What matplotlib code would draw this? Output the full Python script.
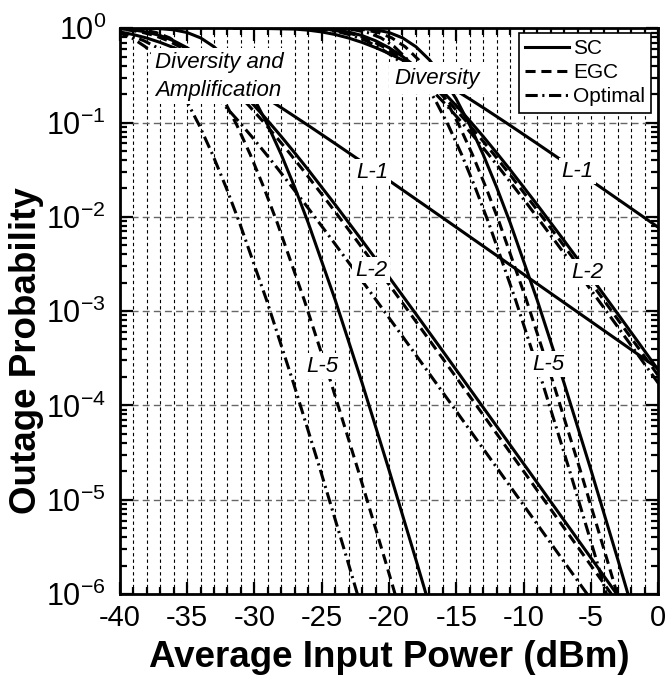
import matplotlib.pyplot as plt
from matplotlib.ticker import MultipleLocator, LogLocator, NullFormatter

plt.rcParams['font.family'] = ['Liberation Sans', 'DejaVu Sans']
plt.rcParams['axes.unicode_minus'] = False

# outage probability per diversity order (same shape for both groups)
p_l1 = [0.99957, 0.9796, 0.9545, 0.914, 0.8577, 0.7875, 0.7078, 0.6236, 0.5398, 0.4602,
        0.3872, 0.3222, 0.2658, 0.2177, 0.1772, 0.1435, 0.1157, 0.0931, 0.0598, 0.0382,
        0.02425, 0.01537, 0.009725, 0.002452, 7.759e-4, 2.455e-4]
p_l2 = [1.0, 0.9992, 0.9959, 0.9853, 0.9599, 0.9118, 0.8365, 0.7368, 0.6213, 0.5022,
        0.39, 0.2923, 0.2125, 0.1505, 0.1043, 0.07097, 0.04757, 0.03151, 0.01346, 0.005603,
        0.002295, 9.30e-4, 3.746e-4, 2.399e-5, 2.406e-6, 2.41e-7]
p_l5 = [1.0, 1.0, 1.0, 1.0, 0.9997, 0.9978, 0.9894, 0.9628, 0.901, 0.791,
        0.6365, 0.4623, 0.3013, 0.1767, 0.0937, 0.04555, 0.02047, 0.008625, 0.001314, 1.727e-4,
        2.06e-5, 2.30e-6, 2.47e-7, 2.7e-10, 8.7e-13, 2.8e-15]

# "Diversity and Amplification" group (dBm)
x_amp_sc = [-45, -42, -41, -40, -39, -38, -37, -36, -35, -34, -33, -32, -31, -30, -29, -28,
            -27, -26, -24, -22, -20, -18, -16, -10, -5, 0]
x_amp_egc2 = [-45.4, -42.4, -41.4, -40.4, -39.4, -38.4, -37.4, -36.4, -35.4, -34.4, -33.4, -32.4,
              -31.4, -30.4, -29.4, -28.4, -27.4, -26.4, -24.4, -22.4, -20.4, -18.4, -16.4, -10.4,
              -5.4, -0.4]
x_amp_opt2 = [-47.2, -44.2, -43.2, -42.2, -41.2, -40.2, -39.2, -38.2, -37.2, -36.2, -35.2, -34.2,
              -33.2, -32.2, -31.2, -30.2, -29.2, -28.2, -26.2, -24.2, -22.2, -20.2, -18.2, -12.2,
              -7.2, -2.2]
x_amp_egc5 = [-47.3, -44.3, -43.3, -42.3, -41.3, -40.3, -39.3, -38.3, -37.3, -36.3, -35.3, -34.3,
              -33.3, -32.3, -31.3, -30.3, -29.3, -28.3, -26.3, -24.3, -22.3, -20.3, -18.3, -12.3,
              -7.3, -2.3]
x_amp_opt5 = [-50.1, -47.1, -46.1, -45.1, -44.1, -43.1, -42.1, -41.1, -40.1, -39.1, -38.1, -37.1,
              -36.1, -35.1, -34.1, -33.1, -32.1, -31.1, -29.1, -27.1, -25.1, -23.1, -21.1, -15.1,
              -10.1, -5.1]

# "Diversity" group (dBm)
x_div_sc = [-30, -27, -26, -25, -24, -23, -22, -21, -20, -19, -18, -17, -16, -15, -14, -13,
            -12, -11, -9, -7, -5, -3, -1, 5, 10, 15]
x_div_egc2 = [-30.3, -27.3, -26.3, -25.3, -24.3, -23.3, -22.3, -21.3, -20.3, -19.3, -18.3, -17.3,
              -16.3, -15.3, -14.3, -13.3, -12.3, -11.3, -9.3, -7.3, -5.3, -3.3, -1.3, 4.7, 9.7, 14.7]
x_div_opt2 = [-30.7, -27.7, -26.7, -25.7, -24.7, -23.7, -22.7, -21.7, -20.7, -19.7, -18.7, -17.7,
              -16.7, -15.7, -14.7, -13.7, -12.7, -11.7, -9.7, -7.7, -5.7, -3.7, -1.7, 4.3, 9.3, 14.3]
x_div_egc5 = [-30.8, -27.8, -26.8, -25.8, -24.8, -23.8, -22.8, -21.8, -20.8, -19.8, -18.8, -17.8,
              -16.8, -15.8, -14.8, -13.8, -12.8, -11.8, -9.8, -7.8, -5.8, -3.8, -1.8, 4.2, 9.2, 14.2]
x_div_opt5 = [-31.6, -28.6, -27.6, -26.6, -25.6, -24.6, -23.6, -22.6, -21.6, -20.6, -19.6, -18.6,
              -17.6, -16.6, -15.6, -14.6, -13.6, -12.6, -10.6, -8.6, -6.6, -4.6, -2.6, 3.4, 8.4, 13.4]

styles = {'SC': '-', 'EGC': (0, (3.3, 1.9)), 'Optimal': (0, (4, 1.5, 0.7, 1.5))}

curves = [
    (x_amp_opt5, p_l5, 'Optimal'), (x_amp_egc5, p_l5, 'EGC'), (x_amp_sc, p_l5, 'SC'),
    (x_amp_opt2, p_l2, 'Optimal'), (x_amp_egc2, p_l2, 'EGC'), (x_amp_sc, p_l2, 'SC'),
    (x_amp_sc, p_l1, 'SC'),
    (x_div_opt5, p_l5, 'Optimal'), (x_div_egc5, p_l5, 'EGC'), (x_div_sc, p_l5, 'SC'),
    (x_div_opt2, p_l2, 'Optimal'), (x_div_egc2, p_l2, 'EGC'), (x_div_sc, p_l2, 'SC'),
    (x_div_sc, p_l1, 'SC'),
]

fig = plt.figure(figsize=(6.69, 6.89), dpi=100)
ax = fig.add_axes([0.179, 0.138, 0.805, 0.821])

for x, p, kind in curves:
    ax.plot(x, p, color='k', lw=2.2, linestyle=styles[kind], zorder=3)

ax.set_yscale('log')
ax.set_xlim(-40, 0)
ax.set_ylim(1e-6, 1)
ax.xaxis.set_major_locator(MultipleLocator(5))
ax.xaxis.set_minor_locator(MultipleLocator(1))
ax.yaxis.set_major_locator(LogLocator(base=10, numticks=10))
ax.yaxis.set_minor_locator(LogLocator(base=10, subs=range(2, 10), numticks=20))
ax.yaxis.set_minor_formatter(NullFormatter())

ax.grid(True, which='major', axis='y', color='#666666', lw=1.0, linestyle=(0, (5, 3)))
ax.grid(True, which='both', axis='x', color='k', lw=0.8, linestyle=(0, (3, 2.7)))
ax.set_axisbelow(True)

ax.tick_params(which='both', direction='in', top=True, right=True, width=1.6)
ax.tick_params(which='major', length=9)
ax.tick_params(axis='x', which='major', labelsize=21, pad=7)
ax.tick_params(axis='y', which='major', labelsize=22, pad=10)
ax.tick_params(which='minor', length=5)
for s in ax.spines.values():
    s.set_linewidth(2)

ax.set_xlabel('Average Input Power (dBm)', fontsize=26.5, fontweight='bold', labelpad=6)
ax.set_ylabel('Outage Probability', fontsize=26.5, fontweight='bold')
ax.yaxis.set_label_coords(-0.14, 0.43)

box = dict(facecolor='white', edgecolor='none', pad=2.5)
ax.text(-37.4, 0.436, 'Diversity and', style='italic', fontsize=16, ha='left', va='center',
        bbox=box, zorder=5)
ax.text(-37.4, 0.220, 'Amplification', style='italic', fontsize=16, ha='left', va='center',
        bbox=box, zorder=5)
ax.text(-16.43, 0.295, 'Diversity', style='italic', fontsize=16, ha='center', va='center',
        bbox=dict(facecolor='white', edgecolor='none', pad=4), zorder=5)

l_labels = [(-21.26, 0.0297, 'L-1'), (-6.02, 0.0305, 'L-1'),
            (-21.34, 2.72e-3, 'L-2'), (-5.28, 2.59e-3, 'L-2'),
            (-24.98, 2.61e-4, 'L-5'), (-8.18, 2.74e-4, 'L-5')]
for x, y, s in l_labels:
    ax.text(x, y, s, style='italic', fontsize=16, ha='center', va='center',
            bbox=dict(facecolor='white', edgecolor='none', pad=2), zorder=5)

handles = [plt.Line2D([], [], color='k', lw=2.2, linestyle=styles[k]) for k in styles]
leg = ax.legend(handles, list(styles), loc='upper right', bbox_to_anchor=(0.987, 0.992),
                fontsize=15, fancybox=False, edgecolor='k', framealpha=1, borderpad=0.3,
                labelspacing=0.25, handlelength=2.1, handletextpad=0.2, borderaxespad=0)
leg.get_frame().set_linewidth(1.2)
leg.set_zorder(6)

fig.savefig('out.png', dpi=100)
